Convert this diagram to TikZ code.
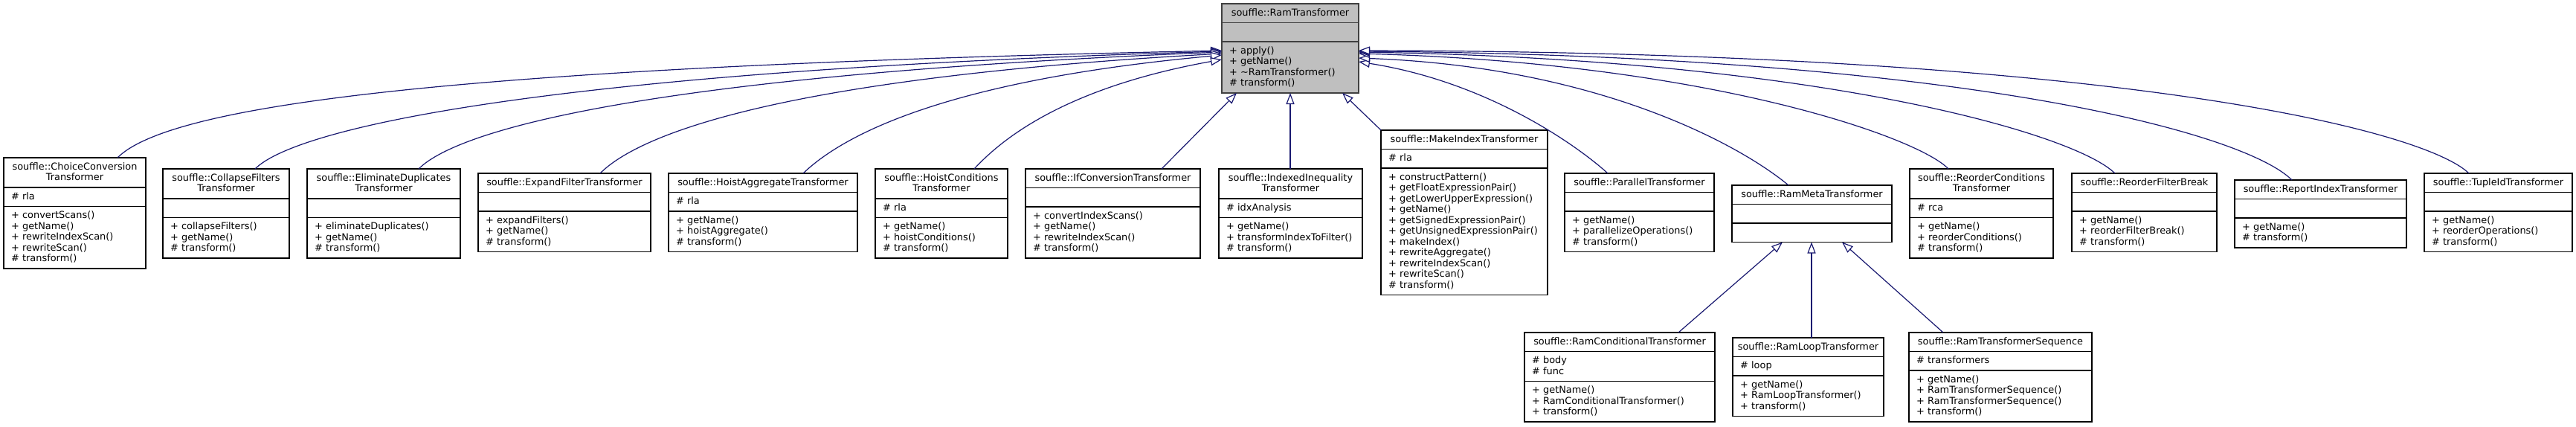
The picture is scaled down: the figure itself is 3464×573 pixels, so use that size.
\documentclass[tikz,border=0pt]{standalone}
\usepackage{fontspec}
\setmainfont{DejaVu Sans}
\usetikzlibrary{calc,arrows.meta}
\definecolor{edgeblue}{RGB}{25,25,112}
\definecolor{rootfill}{RGB}{191,191,191}
\definecolor{rootdraw}{RGB}{64,64,64}
\tikzset{
  box/.style={draw=black, line width=1.3pt, fill=white, inner sep=0pt, outer sep=0pt, rectangle},
  rootbox/.style={fill=rootfill, draw=rootdraw},
  sepline/.style={line width=1.3pt},
  txt/.style={inner sep=0pt, font=\fontsize{12.9pt}{14.5pt}\selectfont},
  edge/.style={draw=edgeblue, line width=1.2pt, -{Triangle[length=15pt, width=11pt, fill=white]}},
}
\newcommand{\umlbox}[8]{%
  \pgfmathsetmacro{\hA}{11+14.5*#5}%
  \pgfmathsetmacro{\hB}{11+14.5*#6}%
  \pgfmathsetmacro{\hT}{\hA+\hB+11+14.5*#7}%
  \node[box,#8,minimum width=#4pt,minimum height=\hT pt,anchor=north west] (#1) at (#2,#3) {};
  \coordinate (#1-s1) at ($(#1.north west)+(0,\hA)$);
  \coordinate (#1-s2) at ($(#1-s1)+(0,\hB)$);
  \draw[sepline,#8,fill=none] (#1-s1) -- (#1-s1 -| #1.east);
  \draw[sepline,#8,fill=none] (#1-s2) -- (#1-s2 -| #1.east);
}
\newcommand{\umltext}[4]{%
  \foreach \itm [count=\i from 0] in {#2} {\node[txt,anchor=base] (#1-t\i) at ($(#1.north)+(0,16+14.5*\i)$) {\itm};}
  \foreach \itm [count=\i from 0] in {#3} {\node[txt,anchor=base west] (#1-a\i) at ($(#1-s1)+(10,16+14.5*\i)$) {\itm};}
  \foreach \itm [count=\i from 0] in {#4} {\node[txt,anchor=base west] (#1-m\i) at ($(#1-s2)+(10,16+14.5*\i)$) {\itm};}
}
\begin{document}
\begin{tikzpicture}[x=1pt,y=-1pt]
\useasboundingbox (0,0) rectangle (3464,573);
% boxes
\umlbox{root}{1643}{5}{184}{1}{1}{4}{rootbox}
\umltext{root}{souffle::RamTransformer}{}{+ apply(),+ getName(),+ \textasciitilde RamTransformer(),\# transform()}

\umlbox{choice}{5}{212}{191}{2}{1}{5}{}
\umltext{choice}{souffle::ChoiceConversion,Transformer}{\# rla}{+ convertScans(),+ getName(),+ rewriteIndexScan(),+ rewriteScan(),\# transform()}

\umlbox{collapse}{219}{227}{170}{2}{1}{3}{}
\umltext{collapse}{souffle::CollapseFilters,Transformer}{}{+ collapseFilters(),+ getName(),\# transform()}

\umlbox{elim}{413}{227}{206}{2}{1}{3}{}
\umltext{elim}{souffle::EliminateDuplicates,Transformer}{}{+ eliminateDuplicates(),+ getName(),\# transform()}

\umlbox{expand}{643}{233}{232}{1}{1}{3}{}
\umltext{expand}{souffle::ExpandFilterTransformer}{}{+ expandFilters(),+ getName(),\# transform()}

\umlbox{hoistagg}{899}{233}{254}{1}{1}{3}{}
\umltext{hoistagg}{souffle::HoistAggregateTransformer}{\# rla}{+ getName(),+ hoistAggregate(),\# transform()}

\umlbox{hoistcond}{1177}{227}{178}{2}{1}{3}{}
\umltext{hoistcond}{souffle::HoistConditions,Transformer}{\# rla}{+ getName(),+ hoistConditions(),\# transform()}

\umlbox{ifconv}{1379}{227}{235}{1}{1}{4}{}
\umltext{ifconv}{souffle::IfConversionTransformer}{}{+ convertIndexScans(),+ getName(),+ rewriteIndexScan(),\# transform()}

\umlbox{indexed}{1639}{227}{193}{2}{1}{3}{}
\umltext{indexed}{souffle::IndexedInequality,Transformer}{\# idxAnalysis}{+ getName(),+ transformIndexToFilter(),\# transform()}

\umlbox{makeindex}{1857}{175}{224}{1}{1}{11}{}
\umltext{makeindex}{souffle::MakeIndexTransformer}{\# rla}{+ constructPattern(),+ getFloatExpressionPair(),+ getLowerUpperExpression(),+ getName(),+ getSignedExpressionPair(),+ getUnsignedExpressionPair(),+ makeIndex(),+ rewriteAggregate(),+ rewriteIndexScan(),+ rewriteScan(),\# transform()}

\umlbox{parallel}{2104}{233}{201}{1}{1}{3}{}
\umltext{parallel}{souffle::ParallelTransformer}{}{+ getName(),+ parallelizeOperations(),\# transform()}

\umlbox{rammeta}{2329}{249}{215}{1}{1}{1}{}
\umltext{rammeta}{souffle::RamMetaTransformer}{}{}

\umlbox{reordercond}{2568}{227}{193}{2}{1}{3}{}
\umltext{reordercond}{souffle::ReorderConditions,Transformer}{\# rca}{+ getName(),+ reorderConditions(),\# transform()}

\umlbox{reorderfb}{2786}{233}{195}{1}{1}{3}{}
\umltext{reorderfb}{souffle::ReorderFilterBreak}{}{+ getName(),+ reorderFilterBreak(),\# transform()}

\umlbox{reportidx}{3005}{242}{231}{1}{1}{2}{}
\umltext{reportidx}{souffle::ReportIndexTransformer}{}{+ getName(),\# transform()}

\umlbox{tupleid}{3260}{233}{199}{1}{1}{3}{}
\umltext{tupleid}{souffle::TupleIdTransformer}{}{+ getName(),+ reorderOperations(),\# transform()}

\umlbox{ramcond}{2050}{447}{256}{1}{2}{3}{}
\umltext{ramcond}{souffle::RamConditionalTransformer}{\# body,\# func}{+ getName(),+ RamConditionalTransformer(),+ transform()}

\umlbox{ramloop}{2330}{454}{203}{1}{1}{3}{}
\umltext{ramloop}{souffle::RamLoopTransformer}{\# loop}{+ getName(),+ RamLoopTransformer(),+ transform()}

\umlbox{ramseq}{2567}{447}{246}{1}{1}{4}{}
\umltext{ramseq}{souffle::RamTransformerSequence}{\# transformers}{+ getName(),+ RamTransformerSequence(),+ RamTransformerSequence(),+ transform()}

% edges to root, left side
\draw[edge] ($(choice.north west)+(153,0)$) .. controls (228,142) and (600,90) .. ($(root.north west)+(0,63)$);
\draw[edge] ($(collapse.north west)+(124,0)$) .. controls (400,170) and (750,95) .. ($(root.north west)+(0,64)$);
\draw[edge] ($(elim.north west)+(150,0)$) .. controls (620,170) and (900,100) .. ($(root.north west)+(0,65)$);
\draw[edge] ($(expand.north west)+(164,0)$) .. controls (860,180) and (1050,105) .. ($(root.north west)+(0,67)$);
\draw[edge] ($(hoistagg.north west)+(181,0)$) .. controls (1125,190) and (1250,110) .. ($(root.north west)+(0,69)$);
\draw[edge] ($(hoistcond.north west)+(133,0)$) .. controls (1340,195) and (1420,120) .. ($(root.north west)+(0,75)$);
% bottom
\draw[edge] ($(ifconv.north west)+(183,0)$) -- ($(root.south west)+(20,0)$);
\draw[edge] ($(indexed.north west)+(96,0)$) -- ($(root.south west)+(92,0)$);
\draw[edge] (makeindex.north west) -- ($(root.south west)+(162,0)$);
% right side
\draw[edge] ($(parallel.north west)+(58,0)$) .. controls (2120,195) and (2000,110) .. ($(root.north east)+(0,78)$);
\draw[edge] ($(rammeta.north west)+(76,0)$) .. controls (2340,195) and (2150,90) .. ($(root.north east)+(0,73)$);
\draw[edge] ($(reordercond.north west)+(52,0)$) .. controls (2580,185) and (2300,85) .. ($(root.north east)+(0,67)$);
\draw[edge] ($(reorderfb.north west)+(58,0)$) .. controls (2790,180) and (2450,80) .. ($(root.north east)+(0,65)$);
\draw[edge] ($(reportidx.north west)+(77,0)$) .. controls (3020,180) and (2650,75) .. ($(root.north east)+(0,64)$);
\draw[edge] ($(tupleid.north west)+(60,0)$) .. controls (3260,175) and (2850,70) .. ($(root.north east)+(0,63)$);
% meta children
\draw[edge] ($(ramcond.north west)+(207,0)$) -- ($(rammeta.south west)+(68,0)$);
\draw[edge] ($(ramloop.north west)+(106,0)$) -- ($(rammeta.south west)+(107,0)$);
\draw[edge] ($(ramseq.north west)+(46,0)$) -- ($(rammeta.south west)+(148,0)$);
\end{tikzpicture}
\end{document}
